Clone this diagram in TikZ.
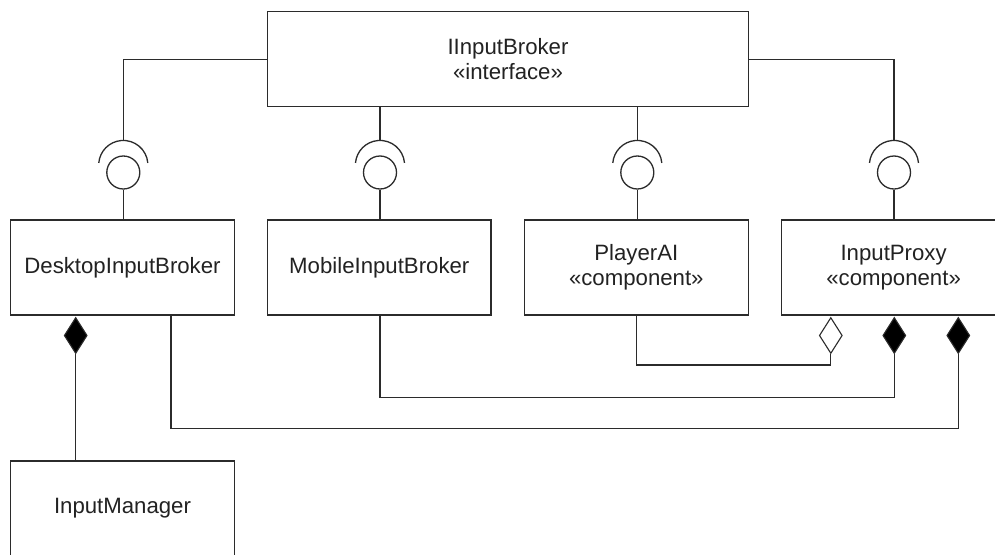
\documentclass[tikz,border=0pt]{standalone}
\usepackage{fontspec}
\setmainfont{Liberation Sans}
\usetikzlibrary{shapes.geometric}
\definecolor{ln}{HTML}{2B2B2B}
\definecolor{tx}{HTML}{222222}
\begin{document}
\begin{tikzpicture}[x=1pt,y=-1pt,
  line width=1.3pt, color=ln,
  box/.style={draw=ln, line width=1.3pt, rectangle, inner sep=0pt, align=center,
    text=tx, font=\fontsize{22.2}{25}\selectfont, minimum height=95pt},
  ball/.style={draw=ln, line width=1.3pt, circle, inner sep=0pt, minimum size=33pt},
  comp/.style={draw=ln, line width=1.1pt, diamond, inner sep=0pt, minimum width=23pt,
    minimum height=36pt, fill=black},
  aggr/.style={comp, fill=white}
]
\clip (0,0) rectangle (995,554);
\fill[white] (0,0) rectangle (995,554);

% boxes
\node[box, minimum width=480.6pt] (top) at (508,59.2) {IInputBroker\\«interface»};
\node[box, minimum width=223.6pt] (desk) at (122.5,267.5) {DesktopInputBroker};
\node[box, minimum width=223.3pt] (mob) at (379.3,267.5) {MobileInputBroker};
\node[box, minimum width=224pt] (play) at (636.3,267.5) {PlayerAI\\«component»};
\node[box, minimum width=224pt] (proxy) at (893.6,267.5) {InputProxy\\«component»};
\node[box, minimum width=223.6pt] (im) at (122.5,508.5) {InputManager};

% sockets (required interfaces) and balls (provided interfaces)
\foreach \i/\x in {1/123.3,2/380,3/637.3,4/894}{
  \coordinate (sock\i) at (\x,140.5);
  \node[ball] (ball\i) at (\x,172.5) {};
  \draw[line cap=butt] (\x+24.5,162.9) arc[start angle=-5, end angle=-175, radius=24.6];
}

% connectors from the interface box to the sockets
\draw (top.west) -| (sock1);
\draw (top.south -| sock2) -- (sock2);
\draw (top.south -| sock3) -- (sock3);
\draw (top.east) -| (sock4);

% connectors from the balls to the components
\draw (ball1) -- (ball1 |- desk.north);
\draw (ball2) -- (ball2 |- mob.north);
\draw (ball3) -- (ball3 |- play.north);
\draw (ball4) -- (ball4 |- proxy.north);

% diamonds
\node[comp] (dm1) at (75.7,335.5) {};
\node[aggr] (dh) at (830.8,335.5) {};
\node[comp] (dm2) at (894.3,335.5) {};
\node[comp] (dm3) at (958.3,335.5) {};

% associations
\draw (dm1.south) -- (dm1.south |- im.north);
\coordinate (jh) at (636.7,365);
\draw (dh.south) |- (jh) -- (jh |- play.south);
\coordinate (j2) at (380,397.3);
\draw (dm2.south) |- (j2) -- (j2 |- mob.south);
\coordinate (j3) at (171,428.3);
\draw (dm3.south) |- (j3) -- (j3 |- desk.south);
\end{tikzpicture}
\end{document}
